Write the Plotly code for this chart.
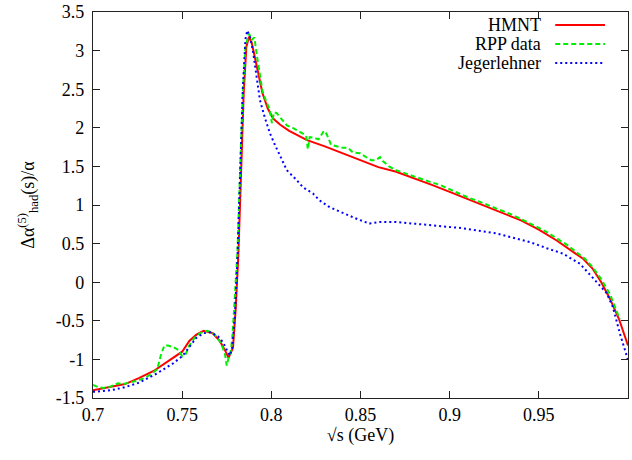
import plotly.graph_objects as go

# ---- data ----
hmnt_x = [0.700, 0.705, 0.710, 0.718, 0.726, 0.734, 0.743, 0.750, 0.754, 0.758,
          0.762, 0.767, 0.771, 0.774, 0.776, 0.7785, 0.7800, 0.7815, 0.783, 0.7845,
          0.786, 0.7875, 0.789, 0.7905, 0.792, 0.795, 0.798, 0.801, 0.805, 0.810,
          0.815, 0.820, 0.830, 0.840, 0.850, 0.860, 0.870, 0.880, 0.890, 0.900,
          0.910, 0.920, 0.930, 0.940, 0.950, 0.960, 0.970, 0.975, 0.980, 0.985,
          0.990, 0.995, 1.000]
hmnt_y = [-1.40, -1.38, -1.36, -1.32, -1.24, -1.15, -1.01, -0.90, -0.76, -0.68,
          -0.63, -0.66, -0.76, -0.88, -0.98, -0.85, -0.35, 0.35, 1.40, 2.45,
          3.05, 3.18, 3.10, 2.95, 2.78, 2.45, 2.25, 2.12, 2.04, 1.96,
          1.90, 1.84, 1.76, 1.67, 1.58, 1.49, 1.43, 1.35, 1.26, 1.17,
          1.08, 0.99, 0.90, 0.80, 0.68, 0.54, 0.38, 0.30, 0.18, 0.00,
          -0.22, -0.48, -0.82]

rpp_x = [0.700, 0.703, 0.706, 0.710, 0.714, 0.717, 0.720, 0.724, 0.728, 0.732,
         0.736, 0.738, 0.740, 0.742, 0.745, 0.748, 0.750, 0.752, 0.754, 0.757,
         0.760, 0.764, 0.767, 0.770, 0.772, 0.774, 0.775, 0.776, 0.777, 0.778,
         0.779, 0.781, 0.7825, 0.784, 0.7855, 0.7875, 0.789, 0.7905, 0.792, 0.7936,
         0.795, 0.797, 0.7992, 0.8003, 0.8015, 0.803, 0.806, 0.8087, 0.812, 0.8143,
         0.817, 0.8195, 0.8205, 0.8215, 0.824, 0.8265, 0.8295, 0.831, 0.8335, 0.8365,
         0.840, 0.843, 0.8457, 0.8497, 0.853, 0.856, 0.8585, 0.861, 0.8625, 0.866,
         0.870, 0.875, 0.879, 0.884, 0.889, 0.8945, 0.900, 0.905, 0.910, 0.917,
         0.924, 0.930, 0.9354, 0.941, 0.947, 0.9545, 0.960, 0.966, 0.971, 0.976,
         0.980, 0.985, 0.990, 0.9954]
rpp_y = [-1.33, -1.36, -1.37, -1.35, -1.31, -1.32, -1.30, -1.28, -1.25, -1.20,
         -1.13, -0.95, -0.82, -0.82, -0.84, -0.88, -0.96, -0.93, -0.82, -0.72,
         -0.66, -0.63, -0.65, -0.73, -0.80, -0.93, -1.08, -0.98, -0.93, -0.75,
         -0.40, 0.40, 1.45, 2.45, 3.05, 3.22, 3.14, 3.17, 2.92, 2.66,
         2.48, 2.35, 2.23, 2.06, 2.20, 2.19, 2.10, 2.03, 2.00, 1.97,
         1.93, 1.90, 1.72, 1.88, 1.87, 1.85, 1.96, 1.92, 1.78, 1.76,
         1.74, 1.74, 1.68, 1.67, 1.62, 1.58, 1.58, 1.62, 1.57, 1.50,
         1.45, 1.41, 1.37, 1.34, 1.30, 1.26, 1.20, 1.15, 1.10, 1.04,
         0.97, 0.92, 0.87, 0.81, 0.74, 0.65, 0.57, 0.48, 0.39, 0.30,
         0.20, 0.04, -0.16, -0.48]

jeg_x = [0.700, 0.710, 0.718, 0.726, 0.736, 0.745, 0.750, 0.754, 0.758, 0.762,
         0.766, 0.770, 0.773, 0.7755, 0.7768, 0.778, 0.7795, 0.781, 0.7825, 0.784,
         0.7855, 0.7865, 0.788, 0.7897, 0.7915, 0.7936, 0.7965, 0.7992, 0.802, 0.8048,
         0.8087, 0.8143, 0.8177, 0.8233, 0.827, 0.8328, 0.8424, 0.849, 0.855, 0.861,
         0.870, 0.889, 0.907, 0.9265, 0.945, 0.9545, 0.9635, 0.973, 0.9786, 0.9825,
         0.988, 0.9915, 0.9954, 1.000]
jeg_y = [-1.42, -1.40, -1.36, -1.30, -1.18, -1.05, -0.96, -0.84, -0.72, -0.66,
         -0.65, -0.70, -0.78, -0.90, -0.95, -0.85, -0.45, 0.30, 1.40, 2.50,
         3.15, 3.26, 3.18, 3.00, 2.70, 2.36, 2.12, 1.93, 1.78, 1.64,
         1.45, 1.32, 1.23, 1.15, 1.06, 0.97, 0.87, 0.81, 0.76, 0.78,
         0.78, 0.74, 0.70, 0.63, 0.52, 0.44, 0.37, 0.24, 0.09, 0.00,
         -0.14, -0.32, -0.66, -1.01]

x_ticks = [0.7, 0.75, 0.8, 0.85, 0.9, 0.95, 1.0]
x_tick_labels = ["0.7", "0.75", "0.8", "0.85", "0.9", "0.95", "1"]
y_ticks = [-1.5, -1.0, -0.5, 0.0, 0.5, 1.0, 1.5, 2.0, 2.5, 3.0, 3.5]
y_tick_labels = ["-1.5", "-1", "-0.5", "0", "0.5", "1", "1.5", "2", "2.5", "3", "3.5"]

series_names = ["HMNT", "RPP data", "Jegerlehner"]
series_colors = ["#ff0000", "#00ee00", "#0000ff"]
series_dash = ["solid", "5px,3px", "2px,3px"]

FONT = "Times New Roman, Liberation Serif, serif"

fig = go.Figure()
for xs, ys, name, col, dash in zip([hmnt_x, rpp_x, jeg_x], [hmnt_y, rpp_y, jeg_y],
                                   series_names, series_colors, series_dash):
    fig.add_trace(go.Scatter(x=xs, y=ys, mode="lines", name=name,
                             line=dict(color=col, width=2, dash=dash),
                             showlegend=False, cliponaxis=True, hoverinfo="skip"))

# legend drawn gnuplot-style: right-aligned text, sample line on the right
leg_y = [0.966, 0.917, 0.868]
for name, col, dash, yy in zip(series_names, series_colors, series_dash, leg_y):
    fig.add_annotation(xref="paper", yref="paper", x=0.841, y=yy, text=name,
                       showarrow=False, xanchor="right", yanchor="middle",
                       font=dict(family=FONT, size=18, color="black"))
    fig.add_shape(type="line", xref="paper", yref="paper", x0=0.864, x1=0.957,
                  y0=yy, y1=yy, line=dict(color=col, width=2, dash=dash))

axis_common = dict(showgrid=False, zeroline=False, showline=True, linecolor="#222222",
                   linewidth=1.3, mirror="ticks", ticks="inside", ticklen=7,
                   tickcolor="#222222", tickwidth=1, automargin=False,
                   tickfont=dict(family=FONT, size=18, color="black"))

fig.update_layout(
    template="none",
    width=632, height=460,
    margin=dict(l=93, r=4, t=12, b=62),
    paper_bgcolor="white", plot_bgcolor="white",
    font=dict(family=FONT, size=18, color="black"),
    xaxis=dict(range=[0.7, 1.0], tickvals=x_ticks, ticktext=x_tick_labels,
               title=dict(text="√s (GeV)", font=dict(family=FONT, size=18), standoff=4),
               **axis_common),
    yaxis=dict(range=[-1.5, 3.5], tickvals=y_ticks, ticktext=y_tick_labels,
               ticklabelstandoff=4,
               title=dict(text="Δα<sup>(5)</sup><sub>had</sub>(s)/α",
                          font=dict(family=FONT, size=18), standoff=16),
               **axis_common),
)

fig.write_html("out.html", config={"displayModeBar": False},
               post_script="document.body.style.margin='0';document.body.style.overflow='hidden';")
